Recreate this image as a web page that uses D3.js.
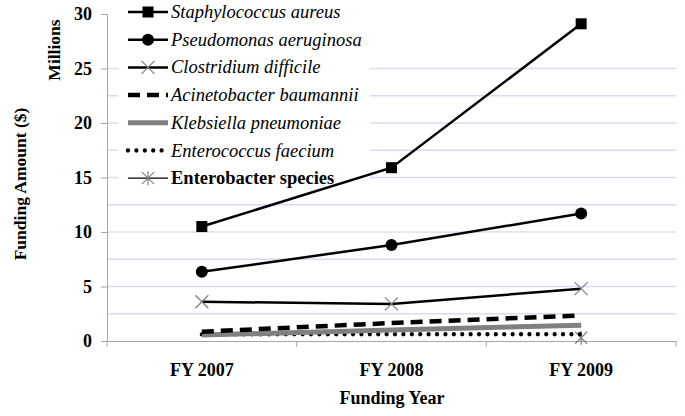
<!DOCTYPE html>
<html>
<head>
<meta charset="utf-8">
<script src="https://cdn.jsdelivr.net/npm/d3@7"></script>
<style>
  body { margin: 0; background: #fff; }
  svg text { font-family: "Liberation Serif", "DejaVu Serif", serif; }
</style>
</head>
<body>
<svg width="685" height="416"></svg>
<script>
var years = ["FY 2007", "FY 2008", "FY 2009"];
var yTicks = [0, 5, 10, 15, 20, 25, 30];
var gridValues = [2.5, 5, 7.5, 10, 12.5, 15, 17.5, 20, 22.5, 25];

var staph = [10.5, 15.9, 29.1];
var pseudo = [6.35, 8.8, 11.7];
var clost = [3.6, 3.4, 4.8];
var acine = [0.85, 1.65, 2.35];
var kleb = [0.55, 1.0, 1.45];
var entero = [0.6, 0.62, 0.62];
var enterob = [null, null, 0.3];

var names = ["Staphylococcus aureus", "Pseudomonas aeruginosa", "Clostridium difficile",
  "Acinetobacter baumannii", "Klebsiella pneumoniae", "Enterococcus faecium", "Enterobacter species"];

var serif = "'Liberation Serif', 'DejaVu Serif', serif";

var series = [
  { name: names[0], values: staph, color: "#000", width: 2.5, dash: null, marker: "square" },
  { name: names[1], values: pseudo, color: "#000", width: 2.5, dash: null, marker: "circle" },
  { name: names[2], values: clost, color: "#000", width: 2.5, dash: null, marker: "x" },
  { name: names[3], values: acine, color: "#000", width: 4.5, dash: "12,7", marker: null },
  { name: names[4], values: kleb, color: "#808080", width: 5, dash: null, marker: null },
  { name: names[5], values: entero, color: "#000", width: 4.3, dash: "0,8.4", marker: null, cap: "round" },
  { name: names[6], values: enterob, color: "#000", width: 1.5, dash: null, marker: "star", bold: true }
];

var svg = d3.select("svg"),
    plotLeft = 107, plotRight = 676, plotTop = 14, plotBottom = 341;

var x = d3.scaleBand().domain(years).range([plotLeft, plotRight]);
var y = d3.scaleLinear().domain([0, 30]).range([plotBottom, plotTop]);

// gridlines
svg.append("g").selectAll("line")
  .data(gridValues)
  .enter().append("line")
  .attr("x1", plotLeft).attr("x2", plotRight)
  .attr("y1", function(d) { return y(d); })
  .attr("y2", function(d) { return y(d); })
  .attr("stroke", "#d9dcef").attr("stroke-width", 1.3);

// y axis
var yAxis = d3.axisLeft(y).tickValues(yTicks).tickSize(6).tickPadding(9);
var gy = svg.append("g").attr("transform", "translate(" + plotLeft + ",0)").call(yAxis);
gy.attr("font-family", null);
gy.select(".domain").attr("stroke", "#a6a6a6");
gy.selectAll(".tick line").attr("stroke", "#a6a6a6");
gy.selectAll(".tick text").attr("font-size", 18).attr("font-weight", "bold")
  .style("font-family", serif).attr("fill", "#000");

// x axis
var xAxis = d3.axisBottom(x).tickSize(0).tickPadding(22);
var gx = svg.append("g").attr("transform", "translate(0," + plotBottom + ")").call(xAxis);
gx.attr("font-family", null);
gx.select(".domain").attr("stroke", "#a6a6a6");
gx.selectAll(".tick text").attr("font-size", 18).attr("font-weight", "bold")
  .style("font-family", serif).attr("fill", "#000");
gx.selectAll(".bound")
  .data([plotLeft].concat(years.map(function(d) { return x(d) + x.bandwidth(); })))
  .enter().append("line")
  .attr("x1", function(d) { return d; }).attr("x2", function(d) { return d; })
  .attr("y1", 0).attr("y2", 6).attr("stroke", "#a6a6a6");

// legend box (white, covers gridlines)
var legend = svg.append("g");
legend.append("rect").attr("x", 118).attr("y", 0).attr("width", 252).attr("height", 192).attr("fill", "#fff");

// lines
var line = d3.line()
  .defined(function(d) { return d != null; })
  .x(function(d, i) { return x(years[i]) + x.bandwidth() / 2; })
  .y(function(d) { return y(d); });

function drawMarker(g, type, cx, cy) {
  if (type == "square") {
    g.append("rect").attr("x", cx - 5.5).attr("y", cy - 5.5).attr("width", 11).attr("height", 11).attr("fill", "#000");
  } else if (type == "circle") {
    g.append("circle").attr("cx", cx).attr("cy", cy).attr("r", 6).attr("fill", "#000");
  } else if (type == "x") {
    g.append("path").attr("d", "M" + (cx - 6.5) + "," + (cy - 6.5) + "L" + (cx + 6.5) + "," + (cy + 6.5) +
      "M" + (cx - 6.5) + "," + (cy + 6.5) + "L" + (cx + 6.5) + "," + (cy - 6.5))
      .attr("stroke", "#808080").attr("stroke-width", 1.2).attr("fill", "none");
  } else if (type == "star") {
    g.append("path").attr("d", "M" + (cx - 6) + "," + (cy - 6) + "L" + (cx + 6) + "," + (cy + 6) +
      "M" + (cx - 6) + "," + (cy + 6) + "L" + (cx + 6) + "," + (cy - 6) +
      "M" + cx + "," + (cy - 7) + "L" + cx + "," + (cy + 7))
      .attr("stroke", "#808080").attr("stroke-width", 1.2).attr("fill", "none");
  }
}

var plot = svg.append("g");
series.slice().reverse().forEach(function(s) {
  plot.append("path")
    .datum(s.values)
    .attr("d", line)
    .attr("fill", "none")
    .attr("stroke", s.color)
    .attr("stroke-width", s.width)
    .attr("stroke-dasharray", s.dash)
    .attr("stroke-linecap", s.cap || "butt");
  if (s.marker) {
    s.values.forEach(function(v, i) {
      if (v != null) drawMarker(plot, s.marker, x(years[i]) + x.bandwidth() / 2, y(v));
    });
  }
});

// legend entries
series.forEach(function(s, i) {
  var ly = 12 + i * 27.7;
  var g = legend.append("g");
  g.append("line")
    .attr("x1", 128).attr("x2", 168).attr("y1", ly).attr("y2", ly)
    .attr("stroke", s.color)
    .attr("stroke-width", s.marker == "star" ? 1.2 : s.width)
    .attr("stroke-dasharray", s.dash)
    .attr("stroke-linecap", s.cap || "butt");
  if (s.marker) drawMarker(g, s.marker, 148, ly);
  g.append("text")
    .attr("x", 171).attr("y", ly + 6)
    .attr("font-size", 18.5)
    .style("font-family", serif)
    .style("font-style", s.bold ? "normal" : "italic")
    .style("font-weight", s.bold ? "bold" : "normal")
    .text(s.name);
});

// axis titles
svg.append("text")
  .attr("transform", "translate(26,184) rotate(-90)")
  .attr("text-anchor", "middle").attr("font-size", 17.5).attr("font-weight", "bold")
  .style("font-family", serif)
  .text("Funding Amount ($)");
svg.append("text")
  .attr("transform", "translate(60,50) rotate(-90)")
  .attr("text-anchor", "middle").attr("font-size", 17.5).attr("font-weight", "bold")
  .style("font-family", serif)
  .text("Millions");
svg.append("text")
  .attr("x", 392).attr("y", 404)
  .attr("text-anchor", "middle").attr("font-size", 18).attr("font-weight", "bold")
  .style("font-family", serif)
  .text("Funding Year");
</script>
</body>
</html>
